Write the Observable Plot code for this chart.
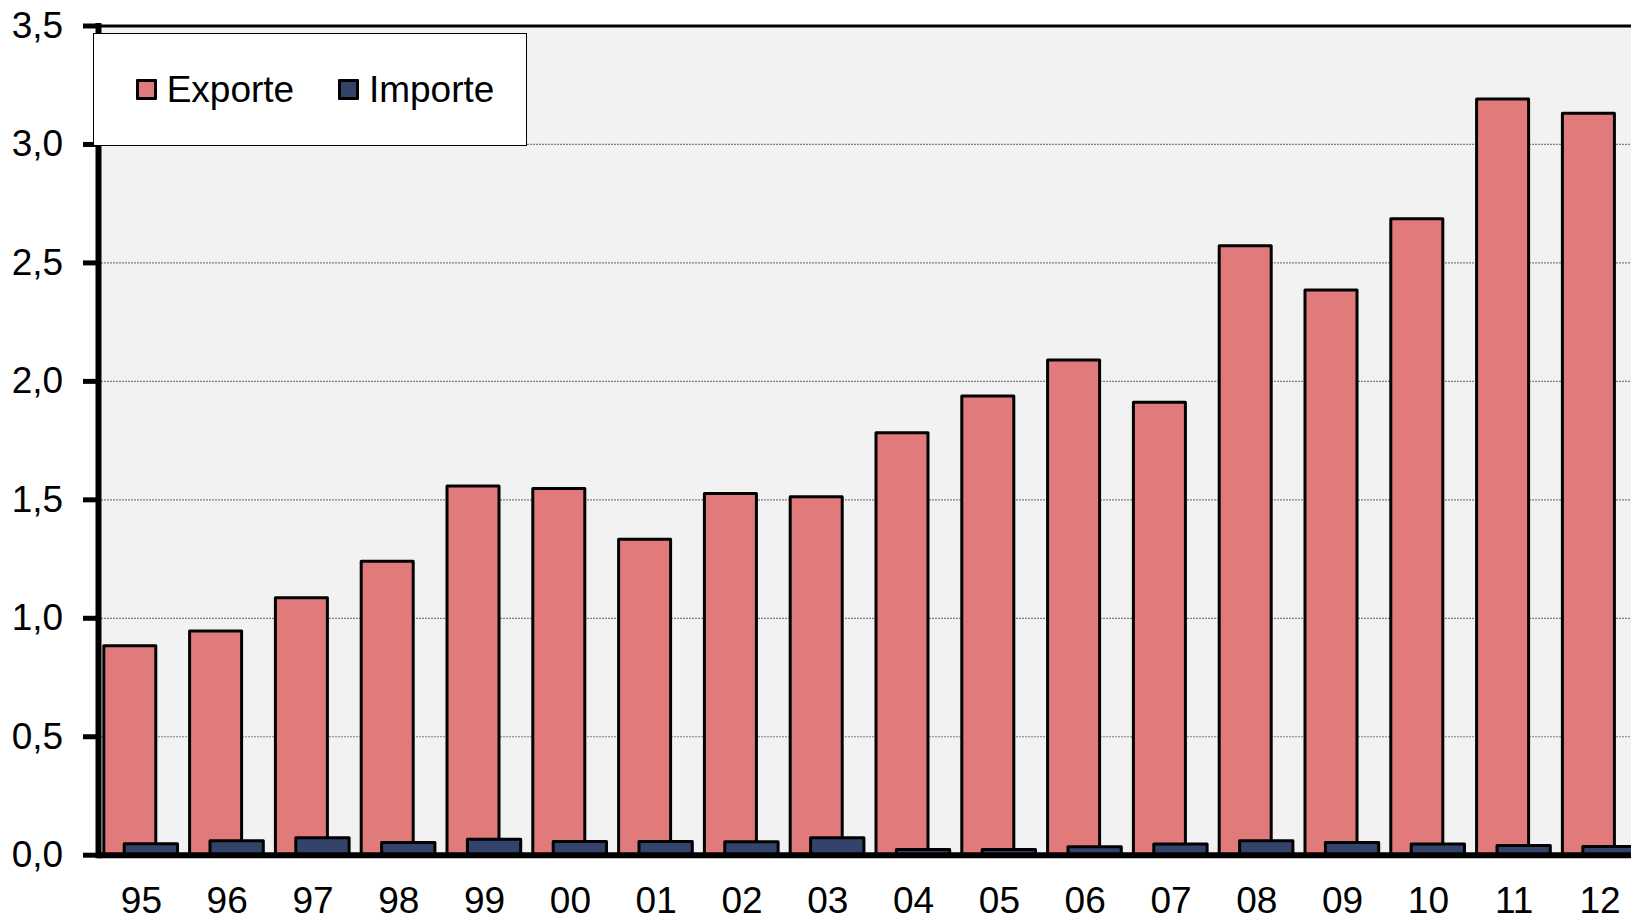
<!DOCTYPE html>
<html>
<head>
<meta charset="utf-8">
<script src="https://cdn.jsdelivr.net/npm/d3@7"></script>
<script src="https://cdn.jsdelivr.net/npm/@observablehq/plot@0.6"></script>
<style>
  html, body { margin: 0; padding: 0; background: #ffffff; overflow: hidden; }
  #wrap { position: relative; width: 1631px; height: 917px; }
  #legend {
    position: absolute; left: 92.7px; top: 32.7px; width: 434.6px; height: 113.8px;
    background: #ffffff; border: 1px solid #000; box-sizing: border-box;
    display: flex; align-items: center; padding-left: 42.3px;
    font-family: "Liberation Sans", Arial, sans-serif; font-size: 37px; color: #000;
  }
  .item { display: flex; align-items: center; margin-right: 44px; }
  .sw { width: 21px; height: 21px; box-sizing: border-box; border: 3px solid #000; margin-right: 9.7px; border-radius: 1px; }
</style>
</head>
<body>
<div id="wrap"></div>
<script>
const years = ["95","96","97","98","99","00","01","02","03","04","05","06","07","08","09","10","11","12"];
const exportValues = [0.882,0.944,1.085,1.239,1.556,1.546,1.331,1.525,1.511,1.781,1.936,2.088,1.910,2.570,2.384,2.684,3.190,3.130];
const importValues = [0.046,0.059,0.072,0.052,0.065,0.056,0.056,0.055,0.072,0.022,0.022,0.034,0.045,0.059,0.052,0.045,0.039,0.035];
const seriesNames = ["Exporte", "Importe"];
const seriesColors = ["#E17B7B", "#33436B"];
const yTicks = [0, 0.5, 1.0, 1.5, 2.0, 2.5, 3.0, 3.5];
const gridTicks = [0.5, 1.0, 1.5, 2.0, 2.5, 3.0];

const exportsData = years.map((y, i) => ({year: y, value: exportValues[i]}));
const importsData = years.map((y, i) => ({year: y, value: importValues[i]}));
const fmt = d => d.toFixed(1).replace(".", ",");

const chart = Plot.plot({
  width: 1631,
  height: 917,
  marginLeft: 98,
  marginRight: -11.4,
  marginTop: 25.5,
  marginBottom: 62.3,
  style: {fontFamily: "'Liberation Sans', Arial, sans-serif", background: "#ffffff", color: "#000"},
  x: {type: "band", domain: years, padding: 0, round: false, label: null},
  y: {domain: [0, 3.5], label: null},
  marks: [
    Plot.frame({fill: "#F2F2F2"}),
    Plot.ruleY(gridTicks, {stroke: "#7f7f7f", strokeWidth: 1.2, strokeDasharray: "2,1"}),
    Plot.barY(exportsData, {x: "year", y: "value", fill: seriesColors[0], stroke: "#000", strokeWidth: 3, strokeLinejoin: "round", insetLeft: 5.8, insetRight: 28}),
    Plot.barY(importsData, {x: "year", y: "value", fill: seriesColors[1], stroke: "#000", strokeWidth: 3, strokeLinejoin: "round", insetLeft: 26.2, insetRight: 6.3}),
    Plot.frame({anchor: "top", stroke: "#000", strokeWidth: 3}),
    Plot.frame({anchor: "left", stroke: "#000", strokeWidth: 6}),
    Plot.ruleY([0], {stroke: "#000", strokeWidth: 6}),
    Plot.axisY({ticks: yTicks, tickFormat: fmt, tickSize: 15, tickPadding: 20.3, strokeWidth: 5, fontSize: 37, label: null}),
    Plot.axisX({tickSize: 0, tickPadding: 32, fontSize: 37, label: null})
  ]
});

const wrap = document.getElementById("wrap");
wrap.appendChild(chart);
const legend = document.createElement("div");
legend.id = "legend";
seriesNames.forEach((name, i) => {
  const item = document.createElement("div");
  item.className = "item";
  const sw = document.createElement("span");
  sw.className = "sw";
  sw.style.background = seriesColors[i];
  const t = document.createElement("span");
  t.textContent = name;
  item.appendChild(sw);
  item.appendChild(t);
  legend.appendChild(item);
});
wrap.appendChild(legend);
</script>
</body>
</html>
